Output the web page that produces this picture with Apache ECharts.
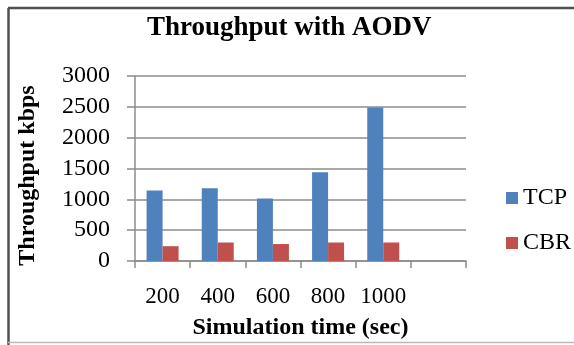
<!DOCTYPE html>
<html>
<head>
<meta charset="utf-8">
<script src="https://cdn.jsdelivr.net/npm/echarts@6/dist/echarts.min.js"></script>
<style>
html,body{margin:0;padding:0;background:#fff;}
#chart{width:574px;height:345px;}
</style>
</head>
<body>
<div id="chart"></div>
<script>
var categories = ['200', '400', '600', '800', '1000', ''];
var tcpValues = [1145, 1180, 1015, 1440, 2490, null];
var cbrValues = [240, 300, 275, 300, 300, null];
var seriesNames = ['TCP', 'CBR'];
var titleText = 'Throughput with AODV';
var xAxisTitle = 'Simulation time (sec)';
var yAxisTitle = 'Throughput kbps';

var font = 'Liberation Serif';
var chart = echarts.init(document.getElementById('chart'), null, {renderer: 'canvas'});
chart.setOption({
  animation: false,
  backgroundColor: '#ffffff',
  title: {
    text: titleText,
    left: 142,
    top: 10,
    textStyle: {fontFamily: font, fontSize: 27, fontWeight: 'bold', color: '#000'}
  },
  legend: {
    orient: 'vertical',
    left: 506,
    top: 186,
    padding: 0,
    itemWidth: 12,
    itemHeight: 12,
    itemGap: 21,
    icon: 'rect',
    textStyle: {fontFamily: font, fontSize: 24, color: '#000'},
    data: seriesNames
  },
  grid: {left: 135, right: 108, top: 76, bottom: 84, containLabel: false},
  xAxis: {
    type: 'category',
    data: categories,
    name: xAxisTitle,
    nameLocation: 'middle',
    nameGap: 55,
    nameTextStyle: {fontFamily: font, fontSize: 24, fontWeight: 'bold', color: '#000'},
    axisLine: {show: true, lineStyle: {color: '#8c8c8c', width: 1.5}},
    axisTick: {show: true, length: 7, alignWithLabel: false, lineStyle: {color: '#8c8c8c', width: 1.5}},
    axisLabel: {fontFamily: font, fontSize: 23, color: '#000', margin: 24, interval: 0}
  },
  yAxis: {
    type: 'value',
    min: 0,
    max: 3000,
    interval: 500,
    name: yAxisTitle,
    nameLocation: 'middle',
    nameGap: 95,
    nameRotate: 90,
    nameTextStyle: {fontFamily: font, fontSize: 24, fontWeight: 'bold', color: '#000', padding: [0, 14, 0, 0]},
    axisLine: {show: true, lineStyle: {color: '#8c8c8c', width: 1.5}},
    axisTick: {show: true, length: 8, inside: false, lineStyle: {color: '#8c8c8c', width: 1.5}},
    splitLine: {show: true, lineStyle: {color: '#8c8c8c', width: 1.5}},
    axisLabel: {fontFamily: font, fontSize: 24, color: '#000', margin: 25, padding: [0, 0, 5, 0],
      formatter: function (v) { return String(v); }}
  },
  series: [
    {
      name: seriesNames[0],
      type: 'bar',
      data: tcpValues,
      barWidth: 16,
      barGap: '0%',
      itemStyle: {color: '#4F81BD'}
    },
    {
      name: seriesNames[1],
      type: 'bar',
      data: cbrValues,
      barWidth: 16,
      barGap: '0%',
      itemStyle: {color: '#C0504D'}
    }
  ],
  graphic: [
    {type: 'line', shape: {x1: 8, y1: 8, x2: 574, y2: 8}, style: {stroke: '#505050', lineWidth: 2.5}, silent: true},
    {type: 'line', shape: {x1: 8.5, y1: 8, x2: 8.5, y2: 345}, style: {stroke: '#505050', lineWidth: 2.5}, silent: true},
    {type: 'line', shape: {x1: 8, y1: 342.5, x2: 574, y2: 342.5}, style: {stroke: '#b8b8b8', lineWidth: 1.5}, silent: true}
  ]
});
</script>
</body>
</html>
